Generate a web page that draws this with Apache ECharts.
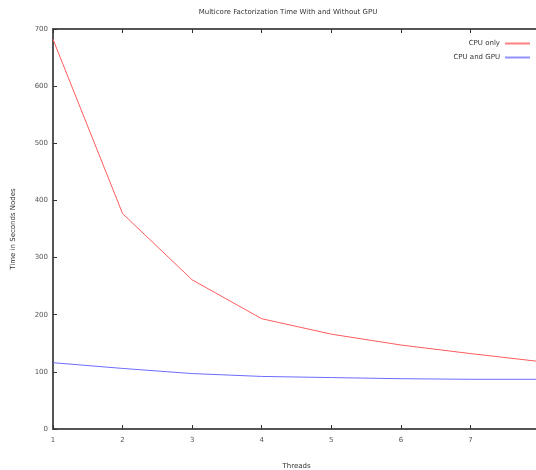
<!DOCTYPE html>
<html>
<head>
<meta charset="utf-8">
<script src="https://cdn.jsdelivr.net/npm/echarts@6/dist/echarts.min.js"></script>
<style>
  html, body { margin: 0; padding: 0; background: #fff; overflow: hidden; }
  /* the plot runs a few pixels past the right edge, as in the reference */
  #chart { width: 544px; height: 470px; }
</style>
</head>
<body>
<div id="chart"></div>
<script>
const threads = [1, 2, 3, 4, 5, 6, 7, 8]
const cpuOnly = [682, 377, 261, 193, 166, 147, 132, 118]
const cpuAndGpu = [116, 106, 97, 92, 90, 88, 87, 87]
const seriesNames = ['CPU only', 'CPU and GPU']

const font = 'DejaVu Sans'
const axisGray = '#555'

const chart = echarts.init(document.getElementById('chart'))

const xCommon = {
  type: 'value',
  min: 1,
  max: 8,
  interval: 1,
  axisLine: { lineStyle: { color: axisGray, width: 2 } },
  axisTick: { inside: true, length: 4, lineStyle: { color: '#333', width: 1 } },
  splitLine: { show: false }
}

chart.setOption({
  animation: false,
  textStyle: { fontFamily: font },
  title: {
    text: 'Multicore Factorization Time With and Without GPU',
    left: 283,
    textAlign: 'center',
    top: 4,
    textStyle: { fontSize: 7, fontWeight: 'normal', color: '#333', fontFamily: font }
  },
  legend: {
    orient: 'vertical',
    right: 9,
    top: 35,
    align: 'right',
    icon: 'rect',
    itemWidth: 25,
    itemHeight: 2,
    itemGap: 7,
    textStyle: { fontSize: 7, color: '#333', fontFamily: font },
    data: seriesNames
  },
  grid: { left: 53, right: 4, top: 29, bottom: 41, outerBoundsMode: 'none' },
  xAxis: [
    Object.assign({}, xCommon, {
      position: 'bottom',
      name: 'Threads',
      nameLocation: 'middle',
      nameGap: 34,
      nameTextStyle: { fontSize: 7, color: '#333' },
      axisLabel: { fontSize: 7, color: axisGray, margin: 8 }
    }),
    Object.assign({}, xCommon, {
      position: 'top',
      axisLabel: { show: false }
    })
  ],
  yAxis: {
    type: 'value',
    min: 0,
    max: 700,
    interval: 100,
    name: 'Time in Seconds Nodes',
    nameLocation: 'middle',
    nameGap: 36,
    nameRotate: 90,
    nameTextStyle: { fontSize: 7, color: '#333' },
    axisLine: { show: true, lineStyle: { color: axisGray, width: 2 } },
    axisTick: { show: true, inside: true, length: 4, lineStyle: { color: '#333', width: 1 } },
    axisLabel: { fontSize: 7, color: axisGray, margin: 5 },
    splitLine: { show: false }
  },
  series: [
    {
      name: seriesNames[0],
      type: 'line',
      data: threads.map((t, i) => [t, cpuOnly[i]]),
      symbol: 'none',
      lineStyle: { color: '#ff5c5c', width: 1 },
      itemStyle: { color: '#ff8080' }
    },
    {
      name: seriesNames[1],
      type: 'line',
      data: threads.map((t, i) => [t, cpuAndGpu[i]]),
      symbol: 'none',
      lineStyle: { color: '#6b6bff', width: 1 },
      itemStyle: { color: '#9090ff' }
    }
  ]
})
</script>
</body>
</html>
